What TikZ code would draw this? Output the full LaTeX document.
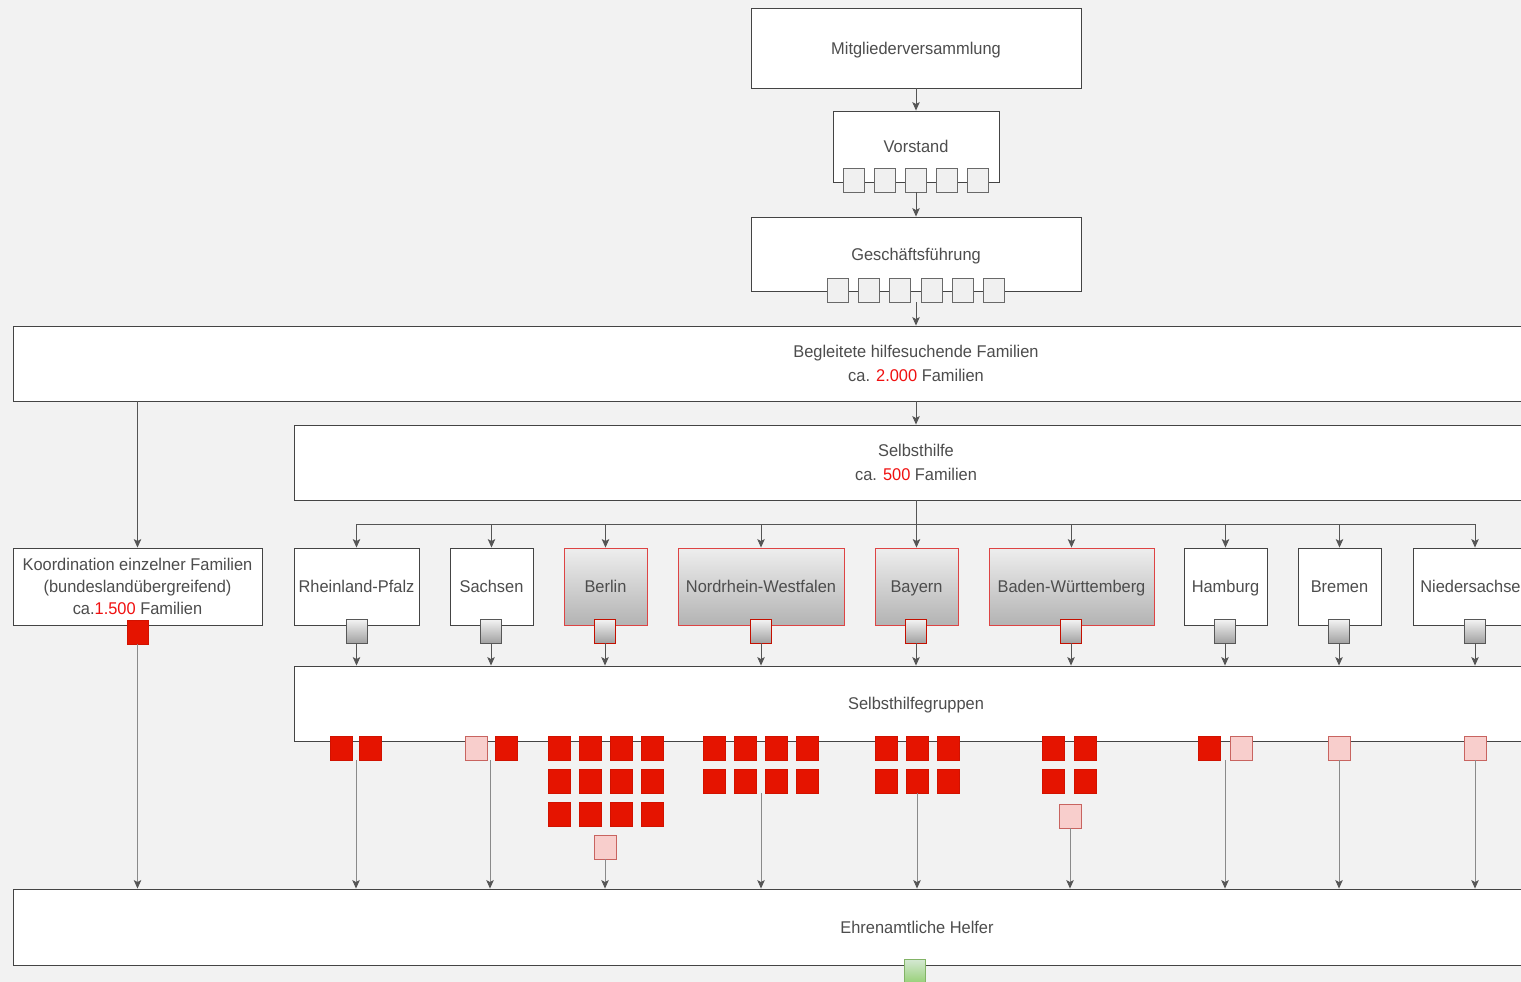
\documentclass[tikz,border=0pt]{standalone}
\usepackage{fontspec}
\setmainfont{Liberation Sans}[FakeStretch=0.965]
\usetikzlibrary{arrows.meta}
\definecolor{bg}{HTML}{F2F2F2}
\definecolor{boxc}{HTML}{444444}
\definecolor{txt}{HTML}{4D4D4D}
\definecolor{num}{HTML}{F01010}
\definecolor{rbord}{HTML}{DD4444}
\definecolor{gtop}{HTML}{EEEEEE}
\definecolor{gbot}{HTML}{B3B3B3}
\definecolor{redf}{HTML}{E51400}
\definecolor{redb}{HTML}{C41000}
\definecolor{pinkf}{HTML}{F8CECC}
\definecolor{pinkb}{HTML}{C86460}
\definecolor{line}{HTML}{555555}
\definecolor{lline}{HTML}{8A8A8A}
\definecolor{greenf}{HTML}{D5E8D4}
\definecolor{greenb}{HTML}{97D077}
\definecolor{greend}{HTML}{82B366}
\begin{document}
\begin{tikzpicture}[x=1pt,y=-1pt,
  font=\fontsize{17}{23}\selectfont,
  box/.style={draw=boxc, fill=white, line width=0.9pt, inner sep=0pt, text=txt, align=center},
  one/.style={text height=12.3pt, text depth=0pt},
  statebox/.style={box, one, minimum height=77},
  redstate/.style={statebox, draw=rbord, top color=gtop, bottom color=gbot},
  vsq/.style={draw=boxc!80, fill=white!94!black, line width=0.9pt, minimum width=21, minimum height=24, inner sep=0pt},
  gsq/.style={draw=boxc!90, top color=white!96!black, bottom color=gbot!90!black, line width=0.9pt, minimum width=21, minimum height=24, inner sep=0pt},
  rgsq/.style={gsq, draw=redb},
  rsq/.style={draw=redb!60!redf, fill=redf, line width=0.6pt, minimum width=22, minimum height=24, inner sep=0pt},
  psq/.style={draw=pinkb, fill=pinkf, line width=0.8pt, minimum width=22, minimum height=24, inner sep=0pt},
  arr/.style={draw=line, line width=0.9pt, -{Stealth[length=8.5pt,width=7.5pt,inset=2pt]}},
  larr/.style={draw=lline, line width=0.9pt, -{Stealth[length=8.5pt,width=7.5pt,inset=2pt,color=line]}},
  ln/.style={draw=line, line width=0.9pt}
]
\useasboundingbox (0,0) rectangle (1521,982);
\fill[bg] (0,0) rectangle (1521,982);
\clip (0,0) rectangle (1521,982);

% top chain
\node[box, one, minimum width=330, minimum height=80] (mv) at (916,48) {Mitgliederversammlung};
\node[box, one, minimum width=166, minimum height=71] (vs) at (916,146.5) {Vorstand};
\foreach \i/\x in {1/854,2/885,3/916,4/947,5/978}
  \node[vsq] (v\i) at (\x,180) {};
\node[box, one, minimum width=330, minimum height=74] (gf) at (916,254) {Geschäftsführung};
\foreach \i/\x in {1/838,2/869,3/900,4/932,5/963,6/994}
  \node[vsq] (g\i) at (\x,290) {};
\coordinate (gfout) at (916,302);

\draw[arr] (mv.south) -- (vs.north);
\draw[arr] (v3.south) -- (gf.north);

\node[box, minimum width=1806, minimum height=75, font=\fontsize{17}{24}\selectfont] (beg) at (916,363.5)
  {Begleitete hilfesuchende Familien\\ca. \textcolor{num}{2.000} Familien};
\draw[arr] (gfout) -- (beg.north);

\node[box, minimum width=1244, minimum height=75, font=\fontsize{17}{24}\selectfont] (sh) at (916,462.5)
  {Selbsthilfe\\ca. \textcolor{num}{500} Familien};
\draw[arr] (beg.south -| sh.north) -- (sh.north);

\node[box, minimum width=249, minimum height=77, font=\fontsize{17}{22}\selectfont] (ko) at (137.5,586.5)
  {Koordination einzelner Familien\\(bundeslandübergreifend)\\ca.\textcolor{num}{1.500} Familien};
\draw[arr] (beg.south -| ko.north) -- (ko.north);
\node[rsq, minimum width=21] (koq) at (137.5,632) {};

% states
\node[statebox, minimum width=125] (rlp) at (356.5,586.5) {Rheinland-Pfalz};
\node[statebox, minimum width=83] (sn) at (491.5,586.5) {Sachsen};
\node[redstate, minimum width=83] (be) at (605.5,586.5) {Berlin};
\node[redstate, minimum width=166] (nrw) at (761,586.5) {Nordrhein-Westfalen};
\node[redstate, minimum width=83] (by) at (916.5,586.5) {Bayern};
\node[redstate, minimum width=165] (bw) at (1071.5,586.5) {Baden-Württemberg};
\node[statebox, minimum width=83] (hh) at (1225.5,586.5) {Hamburg};
\node[statebox, minimum width=83] (hb) at (1339.5,586.5) {Bremen};
\node[statebox, minimum width=124] (ni) at (1475,586.5) {Niedersachsen};

\node[gsq] (rlpq) at (356.5,631) {};
\node[gsq] (snq) at (491,631) {};
\node[rgsq] (beq) at (605,631) {};
\node[rgsq] (nrwq) at (761,631) {};
\node[rgsq] (byq) at (916,631) {};
\node[rgsq] (bwq) at (1071,631) {};
\node[gsq] (hhq) at (1225,631) {};
\node[gsq] (hbq) at (1339,631) {};
\node[gsq] (niq) at (1475,631) {};

\coordinate (bus) at (916,524);
\draw[ln] (sh.south) -- (bus);
\draw[ln] (rlp.north |- bus) -- (ni.north |- bus);
\foreach \s in {rlp,sn,be,nrw,by,bw,hh,hb,ni}
  \draw[arr] (\s.north |- bus) -- (\s.north);

\node[box, one, minimum width=1244, minimum height=75] (shg) at (916,703.5) {Selbsthilfegruppen};
\foreach \s in {rlp,sn,be,nrw,by,bw,hh,hb,ni}
  \draw[arr] (\s q.south) -- (\s q.south |- shg.north);

\node[box, one, minimum width=1808, minimum height=76] (eh) at (917,927) {Ehrenamtliche Helfer};

% group squares
\node[rsq] (r1) at (341,748) {};
\node[rsq] (r2) at (370,748) {};
\node[psq] (s1) at (476,748) {};
\node[rsq] (s2) at (506,748) {};
\foreach \r/\y in {1/748,2/781,3/814}
  \foreach \c/\x in {1/559,2/590,3/621,4/652}
    \node[rsq] (b\r\c) at (\x,\y) {};
\node[psq] (bp) at (605,847) {};
\foreach \r/\y in {1/748,2/781}
  \foreach \c/\x in {1/714,2/745,3/776,4/807}
    \node[rsq] (n\r\c) at (\x,\y) {};
\foreach \r/\y in {1/748,2/781}
  \foreach \c/\x in {1/886,2/917,3/948}
    \node[rsq] (y\r\c) at (\x,\y) {};
\foreach \r/\y in {1/748,2/781}
  \foreach \c/\x in {1/1053,2/1085}
    \node[rsq] (w\r\c) at (\x,\y) {};
\node[psq] (wp) at (1070,816) {};
\node[rsq] (h1) at (1209,748) {};
\node[psq] (h2) at (1241,748) {};
\node[psq] (hbp) at (1339,748) {};
\node[psq] (nip) at (1475,748) {};

% lines to Ehrenamtliche Helfer
\coordinate (o1) at (356,760);
\coordinate (o2) at (490,760);
\coordinate (o4) at (761,793);
\coordinate (o7) at (1225,760);
\draw[larr] (koq.south) -- (koq.south |- eh.north);
\draw[larr] (o1) -- (o1 |- eh.north);
\draw[larr] (o2) -- (o2 |- eh.north);
\draw[larr] (bp.south) -- (bp.south |- eh.north);
\draw[larr] (o4) -- (o4 |- eh.north);
\draw[larr] (y22.south) -- (y22.south |- eh.north);
\draw[larr] (wp.south) -- (wp.south |- eh.north);
\draw[larr] (o7) -- (o7 |- eh.north);
\draw[larr] (hbp.south) -- (hbp.south |- eh.north);
\draw[larr] (nip.south) -- (nip.south |- eh.north);

\node[draw=greend, top color=greenf, bottom color=greenb, line width=0.8pt, minimum width=21, minimum height=24, inner sep=0pt] (ehq) at (914.5,971) {};
\end{tikzpicture}
\end{document}
